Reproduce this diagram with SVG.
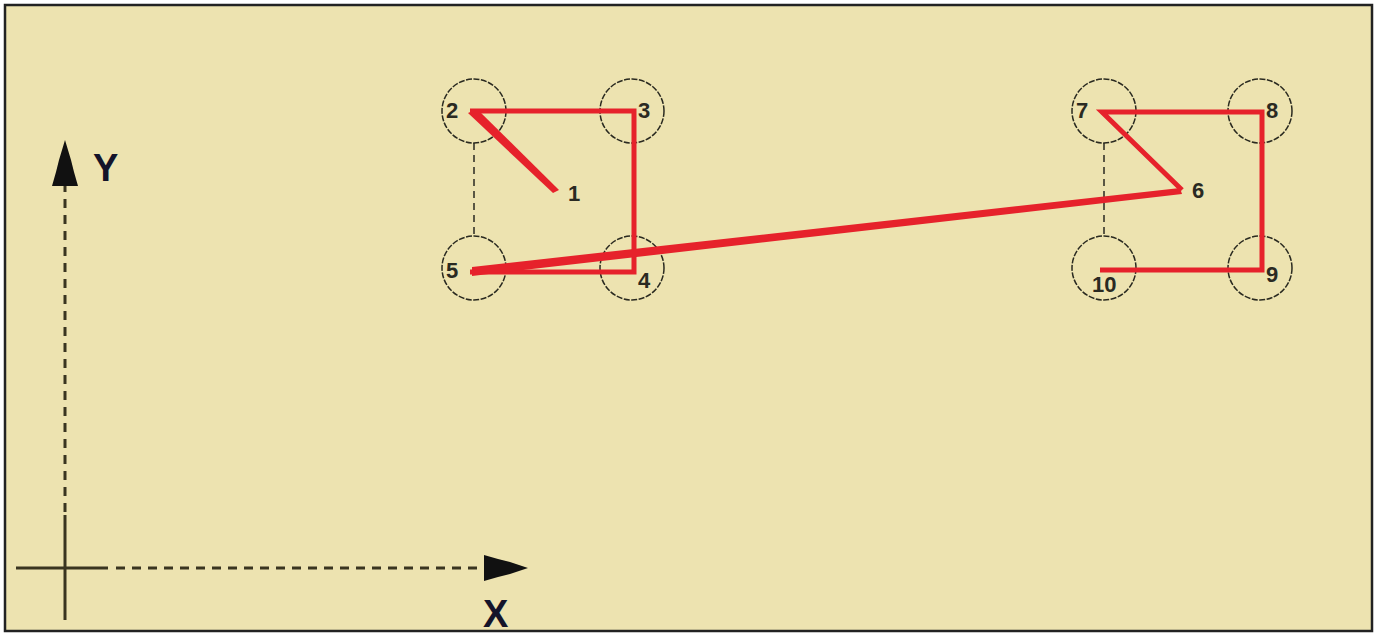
<svg xmlns="http://www.w3.org/2000/svg" width="1380" height="634" viewBox="0 0 1380 634">
<defs>
<style>
.hole{fill:none;stroke:#2a2a20;stroke-width:1.5;stroke-dasharray:6 1.5}
.lbl{font-family:"Liberation Sans",Arial,sans-serif;font-weight:bold;font-size:22px;fill:#2a2a22}
.axl{font-family:"Liberation Sans",Arial,sans-serif;font-weight:bold;font-size:38px;fill:#14142a}
.path{fill:none;stroke:#e6222b;stroke-width:5;stroke-linejoin:miter;stroke-linecap:butt}
.dash{stroke:#2a2a20;stroke-width:1.5;stroke-dasharray:7 5}
.ax{stroke:#3a3520;stroke-width:3}
.axd{stroke:#3a3520;stroke-width:3;stroke-dasharray:9 7}
</style>
</defs>
<rect x="0" y="0" width="1380" height="634" fill="#ffffff"/>
<rect x="5" y="5" width="1367" height="626" fill="#ede3b0" stroke="#222" stroke-width="2.5"/>
<g id="axes">
<line class="ax" x1="65" y1="515" x2="65" y2="620"/>
<line class="axd" x1="65" y1="512" x2="65" y2="185"/>
<polygon points="65,140 71,160 74,172 78,186 52,186 56,172 59,160" fill="#111"/>
<line class="ax" x1="16" y1="568" x2="108" y2="568"/>
<line class="axd" x1="116" y1="568" x2="482" y2="568"/>
<polygon points="528,568 510,562 498,559 484,555 484,581 498,577 510,574" fill="#111"/>
<text class="axl" x="93" y="181">Y</text>
<text class="axl" x="483" y="627">X</text>
</g>
<g id="holes-left">
<g id="hole-2"><circle class="hole" cx="474" cy="111" r="32"/><text class="lbl" x="446" y="118">2</text></g>
<g id="hole-3"><circle class="hole" cx="632" cy="111" r="32"/><text class="lbl" x="638" y="118">3</text></g>
<g id="hole-5"><circle class="hole" cx="474" cy="268" r="32"/><text class="lbl" x="446" y="278">5</text></g>
<g id="hole-4"><circle class="hole" cx="632" cy="268" r="32"/><text class="lbl" x="638" y="288">4</text></g>
<g id="point-1"><text class="lbl" x="568" y="201">1</text></g>
</g>
<g id="holes-right">
<g id="hole-7"><circle class="hole" cx="1104" cy="111" r="32"/><text class="lbl" x="1076" y="118">7</text></g>
<g id="hole-8"><circle class="hole" cx="1260" cy="111" r="32"/><text class="lbl" x="1266" y="118">8</text></g>
<g id="hole-10"><circle class="hole" cx="1104" cy="268" r="32"/><text class="lbl" x="1092" y="292">10</text></g>
<g id="hole-9"><circle class="hole" cx="1260" cy="268" r="32"/><text class="lbl" x="1266" y="282">9</text></g>
<g id="point-6"><text class="lbl" x="1192" y="198">6</text></g>
</g>
<g id="connectors">
<line class="dash" x1="474" y1="143" x2="474" y2="236"/>
<line class="dash" x1="1104" y1="143" x2="1104" y2="236"/>
<polygon points="559,190 553,193 468,113 477,109" fill="#e6222b"/>
<polyline class="path" points="470,111 634,111 634,272 470,272"/>
<polygon points="472,267 1180,188 1182,194 472,276" fill="#e6222b"/>
<polyline class="path" points="1182,190 1102,112 1262,112 1262,270 1100,270"/>
</g>
</svg>
